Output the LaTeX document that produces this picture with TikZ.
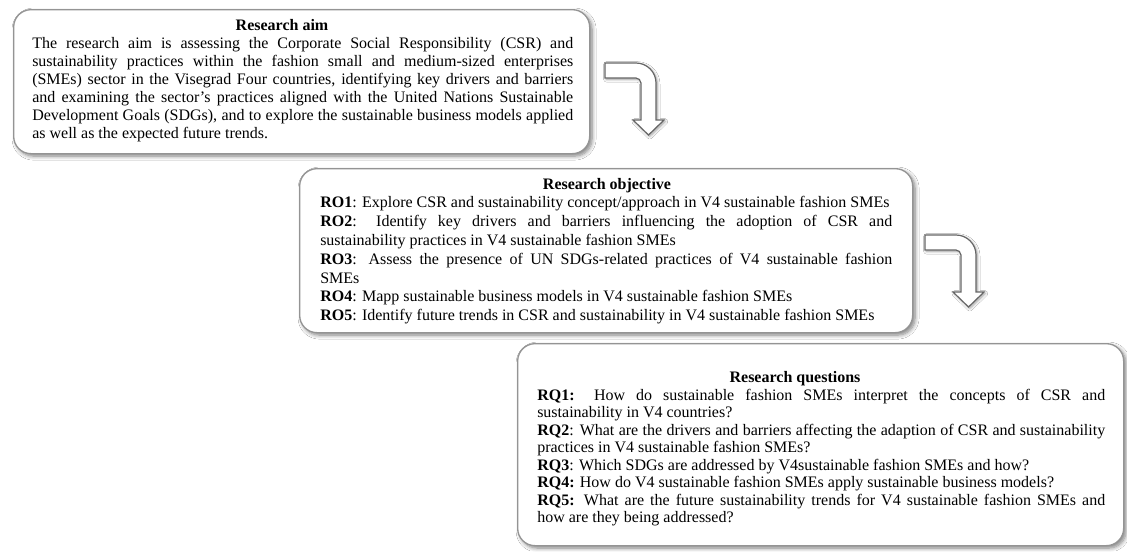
\documentclass[tikz,border=0pt]{standalone}
\usepackage{fontspec}
\setmainfont{Liberation Serif}
\usetikzlibrary{shadows.blur}
% one justified line, one line at its natural width, and a stack of such lines
\newcommand{\fullline}[1]{\hbox to\hsize{\strut #1}}
\newcommand{\shortline}[1]{\hbox{\strut #1}}
\newcommand{\textlines}[2]{\vbox{\hsize=#1\relax #2}}
\begin{document}
\begin{tikzpicture}[x=0.75pt,y=-0.75pt,
  panel/.style={draw=black!42, line width=1pt, fill=white, rounded corners=13pt,
    inner sep=0pt, anchor=north west,
    blur shadow={shadow xshift=1.8pt, shadow yshift=-1.8pt, shadow blur steps=7,
      shadow blur radius=3pt, shadow opacity=50}},
  ptitle/.style={font=\fontsize{12}{13}\selectfont\bfseries, inner sep=0pt, anchor=base},
  ptext/.style={inner sep=0pt, anchor=north west},
  arrowline/.style={fill=white, draw=black!60, line width=0.9pt,
    blur shadow={shadow xshift=1pt, shadow yshift=-1pt, shadow blur steps=5,
      shadow blur radius=2pt, shadow opacity=40}},
  bentarrow/.pic={
    \draw[arrowline] (0,0) -- (31,0) .. controls (42,0) and (51,9) .. (51,20)
      -- (51,57) -- (59,57) -- (43.5,72) -- (28,57) -- (36,57) -- (36,20)
      .. controls (36,17.2) and (33.2,15) .. (31,15) -- (0,15) -- cycle;
  }]
\fill[white] (0,0) rectangle (1127,551);
\useasboundingbox (0,0) rectangle (1127,551);

% ---- research aim ----
\node[panel, minimum width=432pt, minimum height=108pt] (aimbox) at (13,9) {};
\node[ptitle] (aimtitle) at (282,30) {Research aim};
\node[ptext, font=\fontsize{12}{13.5}\selectfont] (aimtext) at (32,35.4) {\textlines{405.75pt}{%
\fullline{The research aim is assessing the Corporate Social Responsibility (CSR) and}%
\fullline{sustainability practices within the fashion small and medium-sized enterprises}%
\fullline{(SMEs) sector in the Visegrad Four countries, identifying key drivers and barriers}%
\fullline{and examining the sector’s practices aligned with the United Nations Sustainable}%
\fullline{Development Goals (SDGs), and to explore the sustainable business models applied}%
\shortline{as well as the expected future trends.}}};

\pic at (605,63) {bentarrow};

% ---- research objective ----
\node[panel, minimum width=459.75pt, minimum height=123pt] (objbox) at (299,168) {};
\node[ptitle] (objtitle) at (607,189) {Research objective};
\node[ptext, font=\fontsize{12}{14.2}\selectfont] (objtext) at (320,193.75) {\textlines{429pt}{%
\shortline{\textbf{RO1}: Explore CSR and sustainability concept/approach in V4 sustainable fashion SMEs}%
\fullline{\textbf{RO2}: Identify key drivers and barriers influencing the adoption of CSR and}%
\shortline{sustainability practices in V4 sustainable fashion SMEs}%
\fullline{\textbf{RO3}: Assess the presence of UN SDGs-related practices of V4 sustainable fashion}%
\shortline{SMEs}%
\shortline{\textbf{RO4}: Mapp sustainable business models in V4 sustainable fashion SMEs}%
\shortline{\textbf{RO5}: Identify future trends in CSR and sustainability in V4 sustainable fashion SMEs}}};

\pic at (925,235) {bentarrow};

% ---- research questions ----
\node[panel, minimum width=454.5pt, minimum height=151.5pt] (qbox) at (517,343) {};
\node[ptitle] (qtitle) at (795,382) {Research questions};
\node[ptext, font=\fontsize{12}{13.1}\selectfont] (qtext) at (537,388) {\textlines{426pt}{%
\fullline{\textbf{RQ1:} How do sustainable fashion SMEs interpret the concepts of CSR and}%
\shortline{sustainability in V4 countries?}%
\fullline{\textbf{RQ2}: What are the drivers and barriers affecting the adaption of CSR and sustainability}%
\shortline{practices in V4 sustainable fashion SMEs?}%
\shortline{\textbf{RQ3}: Which SDGs are addressed by V4sustainable fashion SMEs and how?}%
\shortline{\textbf{RQ4:} How do V4 sustainable fashion SMEs apply sustainable business models?}%
\fullline{\textbf{RQ5:} What are the future sustainability trends for V4 sustainable fashion SMEs and}%
\shortline{how are they being addressed?}}};
\end{tikzpicture}
\end{document}
